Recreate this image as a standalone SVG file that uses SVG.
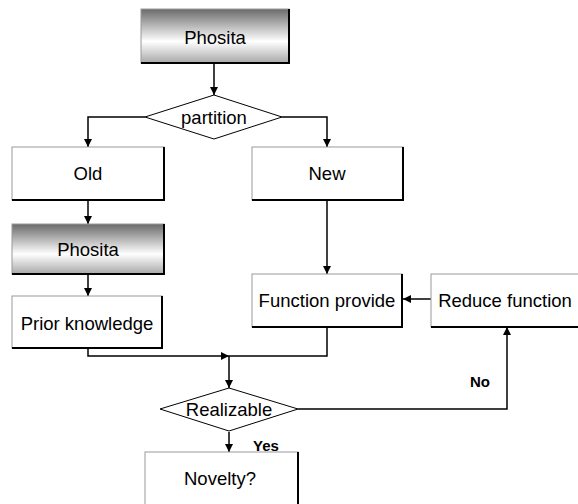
<svg xmlns="http://www.w3.org/2000/svg" width="578" height="504" viewBox="0 0 578 504">
<defs>
<linearGradient id="g" x1="0" y1="0" x2="0" y2="1">
<stop offset="0" stop-color="#6a6a6a"/>
<stop offset="0.6" stop-color="#ffffff"/>
<stop offset="1" stop-color="#a8a8a8"/>
</linearGradient>
<marker id="ah" viewBox="0 0 10 10" refX="10" refY="5" markerWidth="8" markerHeight="8" markerUnits="userSpaceOnUse" orient="auto">
<path d="M0,0 L10,5 L0,10 z" fill="#000"/>
</marker>
</defs>
<style>
.box{fill:#fff;stroke:#999;stroke-width:1}
.grad{fill:url(#g);stroke:#999;stroke-width:1}
.sh{fill:none;stroke:#000;stroke-width:2}
.dia{fill:#fff;stroke:#000;stroke-width:1}
.t{font-family:"Liberation Sans",Arial,sans-serif;font-size:18.5px;fill:#000;text-anchor:middle;dominant-baseline:central}
.b{font-family:"Liberation Sans",Arial,sans-serif;font-size:15px;font-weight:bold;fill:#000}
.c{fill:none;stroke:#000;stroke-width:1.5;marker-end:url(#ah)}
.l{fill:none;stroke:#000;stroke-width:1.5}
</style>
<g id="connectors">
<path class="c" d="M214,63 V95"/>
<path class="c" d="M145,117 H88 V147"/>
<path class="c" d="M282,117 H327 V147"/>
<path class="c" d="M88,200 V224"/>
<path class="c" d="M88,274 V296"/>
<path class="c" d="M327,200 V274"/>
<path class="c" d="M431,299 H403"/>
<path class="c" d="M88,348 V356 H229"/>
<path class="l" d="M327,327 V356 H229"/>
<path class="c" d="M229,356 V388"/>
<path class="c" d="M229,432 V452"/>
<path class="c" d="M298,409 H507 V327"/>
</g>
<g id="phosita1">
<rect class="grad" x="141" y="9" width="148" height="54"/>
<path class="sh" d="M289,9 V63 H141"/>
<text class="t" x="215" y="37">Phosita</text>
</g>
<g id="partition">
<polygon class="dia" points="145,117 214,95 282,117 214,139"/>
<text class="t" x="214" y="117">partition</text>
</g>
<g id="old">
<rect class="box" x="12" y="147" width="152" height="53"/>
<path class="sh" d="M164,147 V200 H12"/>
<text class="t" x="88" y="173">Old</text>
</g>
<g id="new">
<rect class="box" x="252" y="147" width="151" height="53"/>
<path class="sh" d="M403,147 V200 H252"/>
<text class="t" x="327" y="173">New</text>
</g>
<g id="phosita2">
<rect class="grad" x="12" y="224" width="152" height="50"/>
<path class="sh" d="M164,224 V274 H12"/>
<text class="t" x="88" y="249">Phosita</text>
</g>
<g id="prior">
<rect class="box" x="12" y="296" width="150" height="52"/>
<path class="sh" d="M162,296 V348 H12"/>
<text class="t" x="87" y="323">Prior knowledge</text>
</g>
<g id="function">
<rect class="box" x="252" y="274" width="150" height="53"/>
<path class="sh" d="M402,274 V327 H252"/>
<text class="t" x="327" y="300">Function provide</text>
</g>
<g id="reduce">
<rect class="box" x="431" y="274" width="150" height="53"/>
<path class="sh" d="M581,274 V327 H431"/>
<text class="t" x="505" y="300">Reduce function</text>
</g>
<g id="realizable">
<polygon class="dia" points="160,409 229,388 298,409 229,431"/>
<text class="t" x="229" y="409">Realizable</text>
</g>
<g id="novelty">
<rect class="box" x="145" y="452" width="153" height="60"/>
<path class="sh" d="M298,452 V512 H145"/>
<text class="t" x="220" y="478">Novelty?</text>
</g>
<g id="labels">
<text class="b" x="253" y="451">Yes</text>
<text class="b" x="470" y="387">No</text>
</g>
</svg>
